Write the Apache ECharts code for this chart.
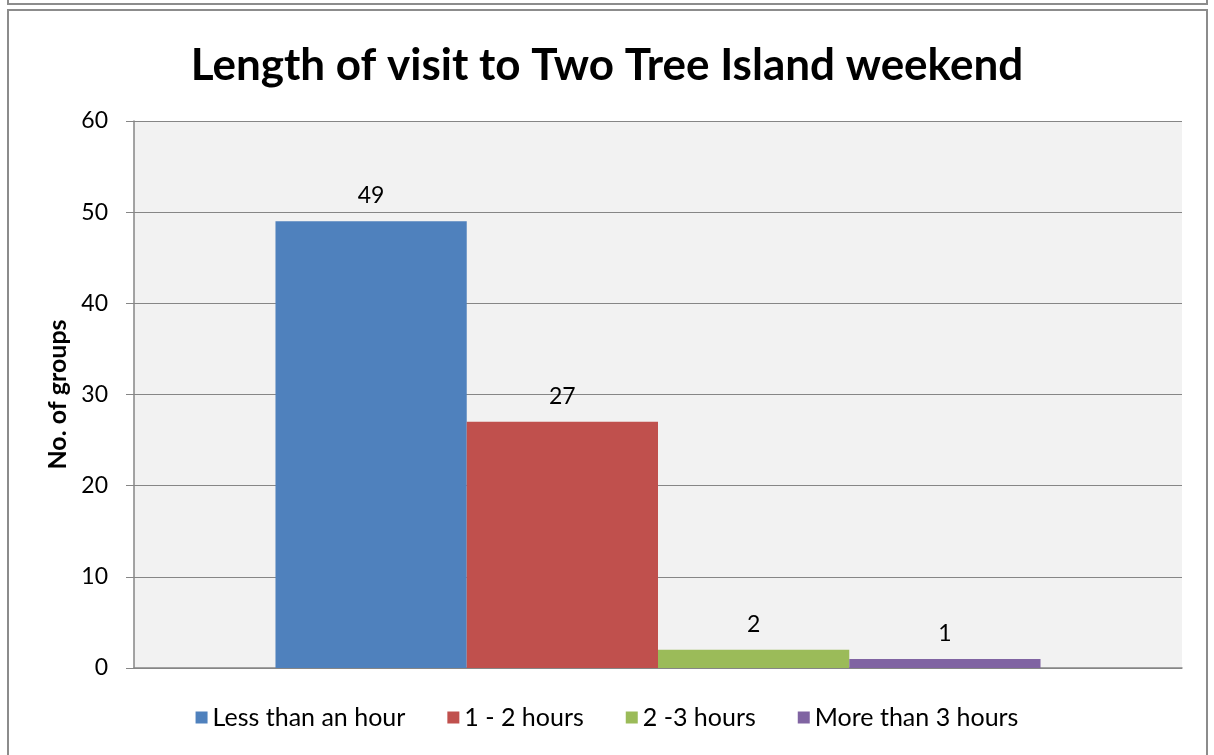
<!DOCTYPE html>
<html>
<head>
<meta charset="utf-8">
<script src="https://cdn.jsdelivr.net/npm/echarts@6/dist/echarts.min.js"></script>
<style>
  html, body { margin: 0; padding: 0; background: #fff; }
  #bar { width: 1214px; height: 755px; }
</style>
</head>
<body>
<div id="bar"></div>
<script>
// data
var categories = [''];
var seriesNames = ['Less than an hour', '1 - 2 hours', '2 -3 hours', 'More than 3 hours'];
var seriesValues = [[49], [27], [2], [1]];
var colors = ['#4f81bd', '#c0504d', '#9bbb59', '#8064a2'];
var yTicks = { min: 0, max: 60, interval: 10 };

var myChart = echarts.init(document.getElementById('bar'));

var font = 'Lato, "Open Sans", sans-serif';

var series = seriesNames.map(function (name, i) {
    return {
        name: name,
        type: 'bar',
        data: seriesValues[i],
        barGap: 0,
        barCategoryGap: '27%',
        itemStyle: { color: colors[i] },
        label: {
            show: true,
            position: 'top',
            distance: 14,
            color: '#000',
            fontSize: 23,
            fontFamily: font
        }
    };
});

var option = {
    animation: false,
    color: colors,
    title: {
        text: 'Length of visit to Two Tree Island weekend',
        left: 'center',
        top: 39,
        textStyle: {
            fontSize: 44,
            fontWeight: 'bold',
            color: '#000',
            fontFamily: font
        }
    },
    legend: {
        bottom: 20,
        left: 'center',
        itemWidth: 12,
        itemHeight: 12,
        itemGap: 42,
        icon: 'rect',
        data: seriesNames,
        textStyle: { fontSize: 25, color: '#000', fontFamily: font }
    },
    grid: {
        left: 134,
        right: 32,
        top: 121,
        bottom: 87,
        show: true,
        backgroundColor: '#f2f2f2',
        borderWidth: 0
    },
    xAxis: {
        type: 'category',
        data: categories,
        axisLine: { lineStyle: { color: '#868686', width: 1.5 } },
        axisTick: { show: false },
        axisLabel: { show: false }
    },
    yAxis: {
        type: 'value',
        min: yTicks.min,
        max: yTicks.max,
        interval: yTicks.interval,
        name: 'No. of groups',
        nameLocation: 'middle',
        nameRotate: 90,
        nameGap: 63,
        nameTextStyle: { fontSize: 25, fontWeight: 'bold', color: '#000', fontFamily: font },
        axisLine: { show: true, lineStyle: { color: '#868686', width: 1.5 } },
        axisTick: { show: true, length: 8, lineStyle: { color: '#868686' } },
        axisLabel: { fontSize: 23, color: '#000', margin: 26, fontFamily: font },
        splitLine: { lineStyle: { color: '#868686', width: 1 } }
    },
    graphic: [
        {
            type: 'rect',
            shape: { x: 8, y: -20, width: 1199, height: 24 },
            style: { fill: 'none', stroke: '#8c8c8c', lineWidth: 2 }
        },
        {
            type: 'rect',
            shape: { x: 8, y: 10, width: 1199, height: 760 },
            style: { fill: 'none', stroke: '#8c8c8c', lineWidth: 2 }
        }
    ],
    series: series
};

myChart.setOption(option);
</script>
</body>
</html>
